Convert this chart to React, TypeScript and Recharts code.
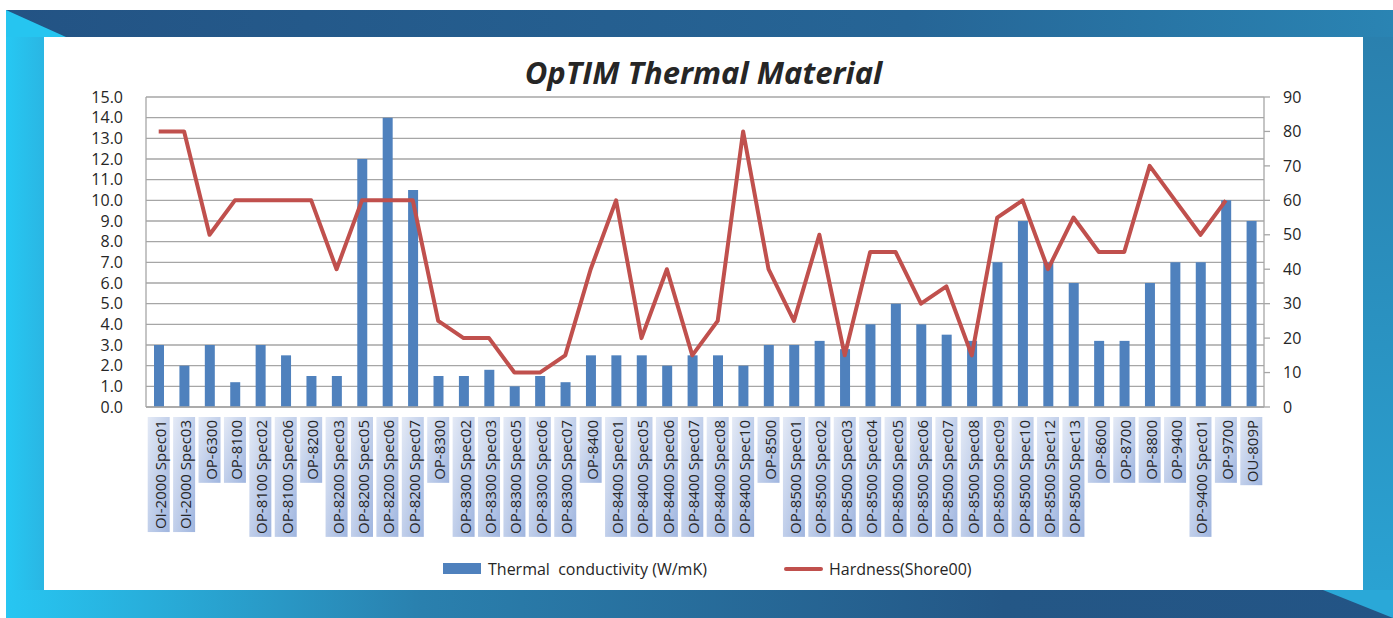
import React from 'react';
import { ComposedChart, Bar, Line, XAxis, YAxis, CartesianGrid, Legend } from 'recharts';

const categories = [
  'OI-2000 Spec01', 'OI-2000 Spec03', 'OP-6300', 'OP-8100', 'OP-8100 Spec02', 'OP-8100 Spec06',
  'OP-8200', 'OP-8200 Spec03', 'OP-8200 Spec05', 'OP-8200 Spec06', 'OP-8200 Spec07',
  'OP-8300', 'OP-8300 Spec02', 'OP-8300 Spec03', 'OP-8300 Spec05', 'OP-8300 Spec06', 'OP-8300 Spec07',
  'OP-8400', 'OP-8400 Spec01', 'OP-8400 Spec05', 'OP-8400 Spec06', 'OP-8400 Spec07', 'OP-8400 Spec08', 'OP-8400 Spec10',
  'OP-8500', 'OP-8500 Spec01', 'OP-8500 Spec02', 'OP-8500 Spec03', 'OP-8500 Spec04', 'OP-8500 Spec05',
  'OP-8500 Spec06', 'OP-8500 Spec07', 'OP-8500 Spec08', 'OP-8500 Spec09', 'OP-8500 Spec10', 'OP-8500 Spec12',
  'OP-8500 Spec13', 'OP-8600', 'OP-8700', 'OP-8800', 'OP-9400', 'OP-9400 Spec01', 'OP-9700', 'OU-809P',
];

// W/mK, left axis
const conductivity = [
  3.0, 2.0, 3.0, 1.2, 3.0, 2.5,
  1.5, 1.5, 12.0, 14.0, 10.5,
  1.5, 1.5, 1.8, 1.0, 1.5, 1.2,
  2.5, 2.5, 2.5, 2.0, 2.5, 2.5, 2.0,
  3.0, 3.0, 3.2, 2.8, 4.0, 5.0,
  4.0, 3.5, 3.2, 7.0, 9.0, 7.0,
  6.0, 3.2, 3.2, 6.0, 7.0, 7.0, 10.0, 9.0,
];

// Shore00, right axis (no value for OU-809P)
const hardness = [
  80, 80, 50, 60, 60, 60,
  60, 40, 60, 60, 60,
  25, 20, 20, 10, 10, 15,
  40, 60, 20, 40, 15, 25, 80,
  40, 25, 50, 15, 45, 45,
  30, 35, 15, 55, 60, 40,
  55, 45, 45, 70, 60, 50, 60, null,
];

const leftTicks = [0, 1, 2, 3, 4, 5, 6, 7, 8, 9, 10, 11, 12, 13, 14, 15];
const rightTicks = [0, 10, 20, 30, 40, 50, 60, 70, 80, 90];

const data = categories.map((name, i) => ({
  name,
  conductivity: conductivity[i],
  hardness: hardness[i],
}));

const FONT = "'Open Sans', 'Noto Sans', sans-serif";
const GRID = '#a6a6a6';
const TEXT = '#262626';

let ctx: CanvasRenderingContext2D | null = null;
function measure(s: string, size: number) {
  if (!ctx) ctx = document.createElement('canvas').getContext('2d');
  if (!ctx) return s.length * size * 0.5;
  ctx.font = `${size}px ${FONT}`;
  return ctx.measureText(s).width;
}

function CategoryTick(props: any) {
  const { x, y, payload } = props;
  const label = String(payload.value);
  const h = measure(label, 15) + 6;
  return (
    <g transform={`translate(${x},${y})`}>
      <rect x={-11} y={0} width={22} height={h} fill="url(#tickBox)" />
      <text
        transform="rotate(-90)"
        x={-3}
        y={1}
        textAnchor="end"
        dominantBaseline="central"
        fontSize={15}
        fontFamily={FONT}
        fill={TEXT}
      >
        {label}
      </text>
    </g>
  );
}

function LegendContent() {
  return (
    <div style={{ position: 'relative', height: 20, fontFamily: FONT, fontSize: 16, color: TEXT, lineHeight: '20px' }}>
      <span style={{ position: 'absolute', left: 443, top: 4, width: 38, height: 11, background: '#4f81bd' }} />
      <span style={{ position: 'absolute', left: 488, top: 0, whiteSpace: 'pre' }}>Thermal  conductivity (W/mK)</span>
      <span style={{ position: 'absolute', left: 784, top: 8, width: 39, height: 4, borderRadius: 2, background: '#c0504d' }} />
      <span style={{ position: 'absolute', left: 829, top: 0, whiteSpace: 'pre' }}>Hardness(Shore00)</span>
    </div>
  );
}

function Frame() {
  return (
    <svg width={1393} height={618} style={{ position: 'absolute', left: 0, top: 0 }}>
      <defs>
        <linearGradient id="topBand" x1="0" y1="0" x2="1" y2="0">
          <stop offset="0" stopColor="#235384" />
          <stop offset="0.65" stopColor="#266596" />
          <stop offset="1" stopColor="#2a84b3" />
        </linearGradient>
        <linearGradient id="leftBand" x1="0" y1="0" x2="1" y2="0">
          <stop offset="0" stopColor="#26c8f3" />
          <stop offset="1" stopColor="#2ab6e3" />
        </linearGradient>
        <linearGradient id="rightBand" x1="0" y1="0" x2="0" y2="1">
          <stop offset="0" stopColor="#2a80ae" />
          <stop offset="1" stopColor="#2aa2d2" />
        </linearGradient>
        <linearGradient id="bottomBand" x1="0" y1="0" x2="1" y2="0">
          <stop offset="0" stopColor="#27c6f2" />
          <stop offset="0.3" stopColor="#2a80ae" />
          <stop offset="0.72" stopColor="#245786" />
          <stop offset="1" stopColor="#235485" />
        </linearGradient>
      </defs>
      <rect x={6} y={10} width={1387} height={27} fill="url(#topBand)" />
      <polygon points="6,10 66,37 6,37" fill="#26c5f0" />
      <rect x={6} y={37} width={38} height={553} fill="url(#leftBand)" />
      <rect x={1363} y={37} width={30} height={553} fill="url(#rightBand)" />
      <rect x={6} y={590} width={1387} height={28} fill="url(#bottomBand)" />
      <polygon points="1323,590 1393,590 1393,618" fill="#2aa8d8" />
      <rect x={44} y={37} width={1319} height={553} fill="#ffffff" />
    </svg>
  );
}

export default function App() {
  return (
    <div style={{ position: 'absolute', left: 0, top: 0, width: 1393, height: 618, fontFamily: FONT }}>
      <Frame />
      <div
        style={{
          position: 'absolute',
          left: 44,
          width: 1319,
          top: 54,
          textAlign: 'center',
          fontSize: 31,
          lineHeight: '36px',
          fontWeight: 700,
          fontStyle: 'italic',
          color: TEXT,
        }}
      >
        OpTIM Thermal Material
      </div>
      <div style={{ position: 'absolute', left: 0, top: 0 }}>
        <ComposedChart width={1393} height={618} data={data} margin={{ top: 97, right: 29, bottom: 0, left: 46 }}>
          <defs>
            <linearGradient id="tickBox" x1="0" y1="0" x2="1" y2="1">
              <stop offset="0" stopColor="#e4eaf6" />
              <stop offset="1" stopColor="#9fb5df" />
            </linearGradient>
          </defs>
          <CartesianGrid yAxisId="left" vertical={false} stroke={GRID} strokeWidth={1.3} />
          <XAxis
            dataKey="name"
            interval={0}
            height={211}
            tickLine={false}
            tickSize={0}
            tickMargin={10}
            axisLine={{ stroke: GRID, strokeWidth: 1.3 }}
            tick={<CategoryTick />}
          />
          <YAxis
            yAxisId="left"
            orientation="left"
            width={100}
            domain={[0, 15]}
            ticks={leftTicks}
            interval={0}
            tickFormatter={(v: number) => v.toFixed(1)}
            tickLine={false}
            tickSize={0}
            tickMargin={23}
            axisLine={{ stroke: GRID, strokeWidth: 1.3 }}
            tick={{ fill: TEXT, fontSize: 16, fontFamily: FONT }}
          />
          <YAxis
            yAxisId="right"
            orientation="right"
            width={100}
            domain={[0, 90]}
            ticks={rightTicks}
            interval={0}
            tickSize={6}
            tickMargin={13}
            tickLine={{ stroke: GRID, strokeWidth: 1.3 }}
            axisLine={{ stroke: GRID, strokeWidth: 1.3 }}
            tick={{ fill: TEXT, fontSize: 16, fontFamily: FONT, textAnchor: 'start' }}
          />
          <Bar
            yAxisId="left"
            dataKey="conductivity"
            name="Thermal  conductivity (W/mK)"
            fill="#4f81bd"
            barSize={10}
            isAnimationActive={false}
          />
          <Line
            yAxisId="right"
            dataKey="hardness"
            name="Hardness(Shore00)"
            type="linear"
            stroke="#c0504d"
            strokeWidth={4}
            strokeLinejoin="round"
            dot={false}
            activeDot={false}
            isAnimationActive={false}
          />
          <Legend
            layout="horizontal"
            verticalAlign="middle"
            align="center"
            content={<LegendContent />}
            wrapperStyle={{ position: 'absolute', top: 559, left: 0, width: 1393, height: 20 }}
          />
        </ComposedChart>
      </div>
    </div>
  );
}
